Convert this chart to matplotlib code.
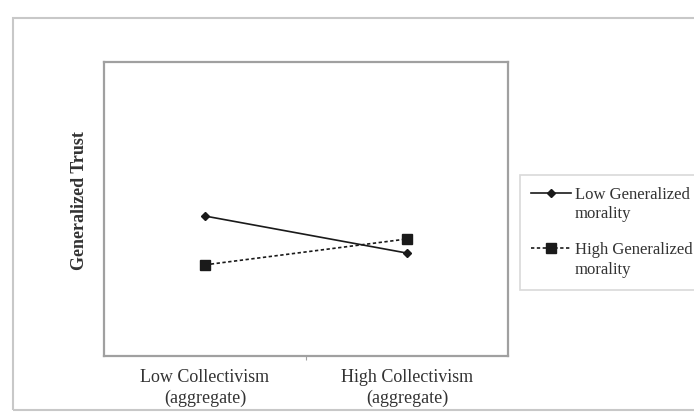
import numpy as np
import matplotlib
matplotlib.use('Agg')
import matplotlib.pyplot as plt
from matplotlib.patches import Rectangle

plt.rcParams['font.family'] = ['Liberation Serif', 'DejaVu Serif']

categories = ['Low Collectivism\n(aggregate)', 'High Collectivism\n(aggregate)']
low_morality = [0.476, 0.350]
high_morality = [0.310, 0.398]
series_names = ['Low Generalized\nmorality', 'High Generalized\nmorality']

fig = plt.figure(figsize=(6.94, 4.12), dpi=100)

# outer frame of the figure panel
fig.patches.append(Rectangle((0.0187, 0.005), 1.1, 0.951, transform=fig.transFigure,
                             fill=False, edgecolor='#c8c8c8', linewidth=1.5))

ax = fig.add_axes([0.1499, 0.136, 0.5821, 0.7135])
x = np.arange(len(categories))
l1, = ax.plot(x, low_morality, '-', color='#1a1a1a', lw=1.2,
              marker='D', markersize=4, label=series_names[0])
l2, = ax.plot(x, high_morality, '--', color='#1a1a1a', lw=1.2, dashes=(2, 1.5),
              marker='s', markersize=6.5, label=series_names[1])

ax.set_xlim(-0.5, 1.5)
ax.set_ylim(0, 1)
ax.set_yticks([])
ax.set_xticks([0.5])
ax.set_xticklabels([''])
ax.tick_params(axis='x', length=3, color='#a0a0a0')
for i, c in enumerate(categories):
    ax.text(x[i], -0.045, c, transform=ax.get_xaxis_transform(), ha='center', va='top',
            fontsize=13, color='#333333', linespacing=1.3)
for s in ax.spines.values():
    s.set_color('#a0a0a0')
    s.set_linewidth(1.6)

ax.set_ylabel('Generalized Trust', fontsize=13, fontweight='bold', color='#333333')
ax.yaxis.set_label_coords(-0.04, 0.527)

leg = fig.legend(handles=[l1, l2], loc='upper left', bbox_to_anchor=(0.749, 0.575),
                 fontsize=12, frameon=True, fancybox=False, edgecolor='#d0d0d0',
                 handlelength=2.4, handletextpad=0.2, labelspacing=1.2,
                 borderpad=0.7, borderaxespad=0)
leg.get_frame().set_linewidth(1.2)
# put the handle next to the first line of each label
for col in leg._legend_handle_box.get_children():
    for item in col.get_children():
        item.align = 'top'
for t in leg.get_texts():
    t.set_color('#333333')
    t.set_linespacing(1.3)

fig.savefig('out.png', dpi=100)
